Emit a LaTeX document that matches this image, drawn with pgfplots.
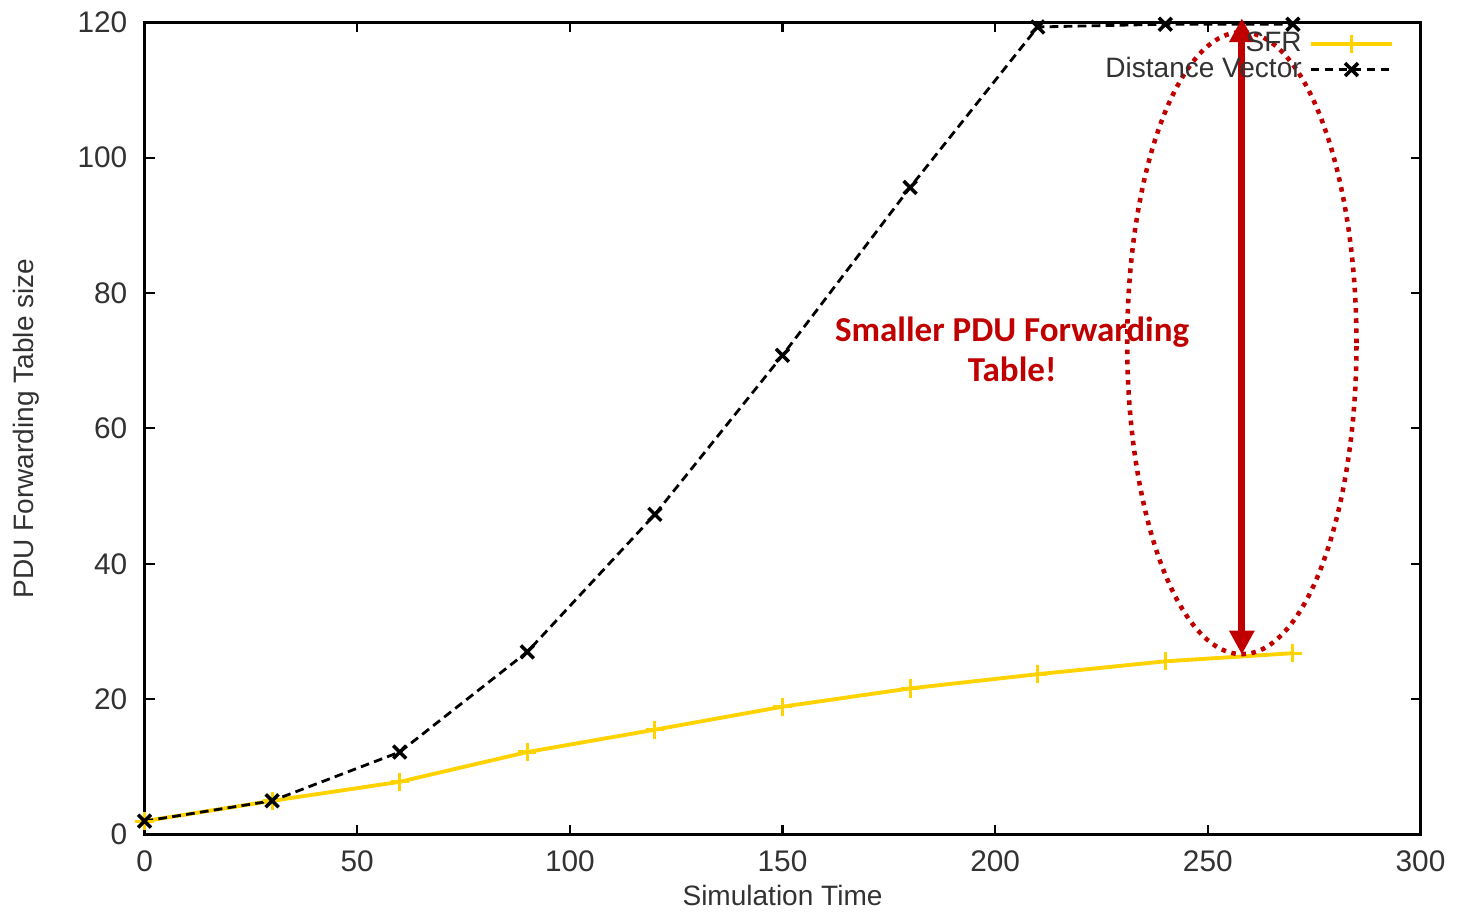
\documentclass[border=0pt]{standalone}
\usepackage{fontspec}
\setmainfont{Liberation Sans}
\newfontfamily\calibri{Carlito}
\usepackage{pgfplots}
\pgfplotsset{compat=1.18}
\usetikzlibrary{arrows.meta}

\definecolor{sfryellow}{RGB}{255,210,0}
\definecolor{annred}{RGB}{192,0,0}
\definecolor{ticktext}{RGB}{50,50,50}

\begin{document}
\begin{tikzpicture}
\begin{axis}[
  scale only axis,
  width=12.8cm,
  height=8.15cm,
  xmin=0, xmax=300,
  ymin=0, ymax=120,
  xtick={0,50,...,300},
  ytick={0,20,...,120},
  tick style={black, line width=0.6pt},
  major tick length=1mm,
  axis line style={black, line width=0.8pt},
  ticklabel style={font=\fontsize{8.5}{10}\selectfont, text=ticktext},
  yticklabel style={xshift=-1.4pt},
  xticklabel style={yshift=-1pt},
  /pgf/number format/assume math mode=true,
  xlabel={Simulation Time},
  ylabel={PDU Forwarding Table size},
  label style={font=\fontsize{8}{10}\selectfont, text=ticktext},
  xlabel style={yshift=3pt},
  ylabel style={yshift=4pt},
  clip=false,
  legend style={
    at={(rel axis cs:1,1)}, anchor=north east,
    xshift=-1.5mm, yshift=0.5mm,
    draw=none, fill=none,
    font=\fontsize{8}{9}\selectfont, text=ticktext,
    row sep=-4pt,
  },
  legend plot pos=right,
  legend cell align=right,
  legend image code/.code={%
    \draw[mark repeat=2,mark phase=2] plot coordinates {(0cm,0cm) (0.41cm,0cm) (0.82cm,0cm)};},
]
\addplot[color=sfryellow, line width=1.1pt, mark=+, mark size=2.6pt,
  mark options={solid, line width=0.9pt}]
  coordinates {(0,2) (30,5) (60,7.8) (90,12.2) (120,15.5) (150,18.9)
               (180,21.6) (210,23.7) (240,25.6) (270,26.8)};
\addlegendentry{SFR}
\addplot[color=black, line width=0.8pt, dash pattern=on 2.5pt off 1.5pt,
  mark=x, mark size=2.6pt, mark options={solid, line width=1pt}]
  coordinates {(0,2) (30,5) (60,12.2) (90,27) (120,47.3) (150,70.8)
               (180,95.6) (210,119.3) (240,119.7) (270,119.7)};
\addlegendentry{Distance Vector}

% annotation
\draw[annred, line width=1.3pt, dash pattern=on 1.3pt off 1.6pt]
  (axis cs:258,72.6) ellipse [x radius=1.15cm, y radius=3.12cm];
\draw[annred, line width=2pt, {Triangle[length=2.4mm,width=2.4mm]}-{Triangle[length=2.4mm,width=2.4mm]}]
  (axis cs:258,120.6) -- (axis cs:258,26.6);
\node[annred, align=center, font=\calibri\bfseries\fontsize{10}{11.6}\selectfont]
  at (axis cs:204,71.7) {Smaller PDU Forwarding\\Table!};

% page bounds
\path ([shift={(-14.5mm,-7.9mm)}]rel axis cs:0,0) rectangle ([shift={(3.2mm,1.8mm)}]rel axis cs:1,1);
\end{axis}
\end{tikzpicture}
\end{document}
